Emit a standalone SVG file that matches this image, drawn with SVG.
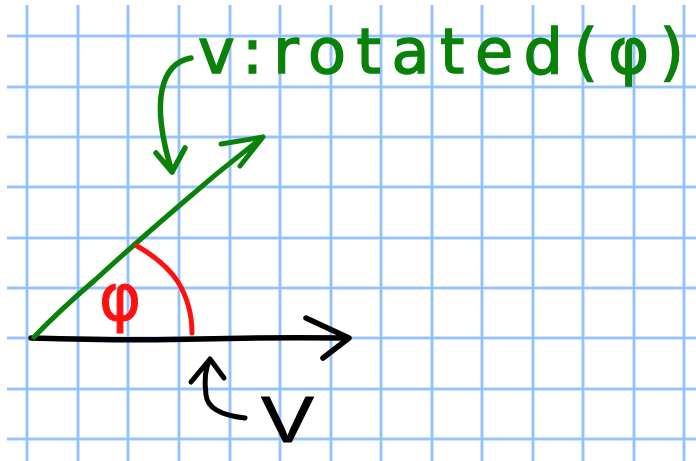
<svg xmlns="http://www.w3.org/2000/svg" width="696" height="461" viewBox="0 0 696 461">
<style>
.gh{stroke:#cfe3ff;stroke-width:4}
.gc{stroke:#86b9ff;stroke-width:1.6}
.pen{fill:none;stroke-linecap:round;stroke-linejoin:round}
.g{stroke:#0a820a}
.k{stroke:#000}
.r{stroke:#ff1010}
.lbl{font-family:"DejaVu Sans","Liberation Sans",sans-serif}
</style>
<rect width="696" height="461" fill="#fff"/>
<g id="grid">
<g class="gh">
<path d="M27 5V461M78 5V461M128 5V461M179 5V461M230 5V461M280 5V461M331 5V461M381 5V461M432 5V461M482 5V461M533 5V461M583 5V461M634 5V461M684 5V461"/>
<path d="M7 36H696M7 87H696M7 137H696M7 187H696M7 238H696M7 288H696M7 338H696M7 389H696M7 439H696"/>
</g>
<g class="gc">
<path d="M27 5V461M78 5V461M128 5V461M179 5V461M230 5V461M280 5V461M331 5V461M381 5V461M432 5V461M482 5V461M533 5V461M583 5V461M634 5V461M684 5V461"/>
<path d="M7 36H696M7 87H696M7 137H696M7 187H696M7 238H696M7 288H696M7 338H696M7 389H696M7 439H696"/>
</g>
</g>
<g id="connectors">
<path id="vec-v" class="pen k" stroke-width="5.5" d="M31 338 Q130 341 200 339 T348 338 M306 318 L349 338 L323 358"/>
<path id="vec-rot" class="pen g" stroke-width="5" d="M34 337 Q60 310 95 280 Q130 248 180 205 Q220 170 263 137 M221 144 L263 137 L240 166"/>
<path id="angle-arc" class="pen r" stroke-width="5" d="M137 246 Q165 262 178 282 Q192 305 192 333"/>
<path id="pointer-rot" class="pen g" stroke-width="5.5" d="M191 58 Q168 62 162 90 Q156 120 172 172 M156 153 L172 172 L185 148"/>
<path id="pointer-v" class="pen k" stroke-width="5" d="M191 382 L210 359 L224 378 M210 359 Q203 372 206 395 Q208 414 245 418"/>
</g>
<g id="label-rotated">
<text class="lbl" x="198" y="73" font-size="62" fill="#0a820a" stroke="#0a820a" stroke-width="1.5" textLength="486" lengthAdjust="spacing">v:rotated(φ)</text>
</g>
<g id="label-phi">
<text class="lbl" x="99" y="320" font-size="64" fill="#ff1010" stroke="#ff1010" stroke-width="1">φ</text>
</g>
<g id="label-v">
<text x="261" y="442" font-family="'Liberation Sans',Arial,sans-serif" font-size="64" fill="#000" stroke="#000" stroke-width="0.8" textLength="53" lengthAdjust="spacingAndGlyphs">V</text>
</g>
</svg>
